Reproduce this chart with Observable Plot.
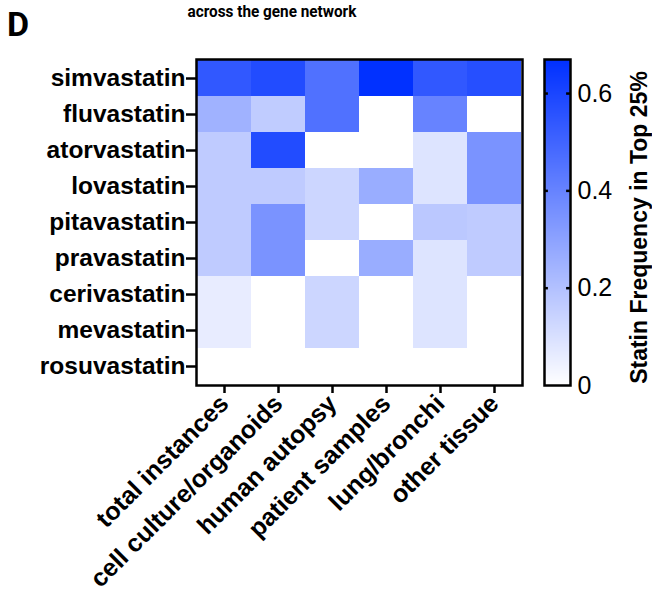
<!DOCTYPE html>
<html>
<head>
<meta charset="utf-8">
<script src="https://cdn.jsdelivr.net/npm/d3@7"></script>
<script src="https://cdn.jsdelivr.net/npm/@observablehq/plot@0.6"></script>
<style>
  html, body { margin: 0; padding: 0; background: #fff; }
  #wrap { position: relative; width: 652px; height: 596px; overflow: hidden; font-family: "Liberation Sans", Arial, sans-serif; }
  #main, #bar { position: absolute; top: 0; }
  #main { left: 0; }
  #bar { left: 530px; }
  #panel { position: absolute; left: 7px; top: 4px; font: bold 34px Roboto, "Liberation Sans", Arial, sans-serif; }
  #title { position: absolute; left: 0; width: 544px; top: 1px; text-align: center; font: bold 17px Roboto, "Liberation Sans", sans-serif; transform: scaleX(0.9); transform-origin: 272px 0; }
</style>
</head>
<body>
<div id="wrap">
  <div id="main"></div>
  <div id="bar"></div>
  <div id="panel">D</div>
  <div id="title">across the gene network</div>
</div>
<script>
const statins = ["simvastatin","fluvastatin","atorvastatin","lovastatin","pitavastatin","pravastatin","cerivastatin","mevastatin","rosuvastatin"];
const categories = ["total instances","cell culture/organoids","human autopsy","patient samples","lung/bronchi","other tissue"];
// values per statin, in category order
const simvastatin  = [0.54, 0.58, 0.46, 0.667, 0.54, 0.57];
const fluvastatin  = [0.25, 0.165, 0.46, 0, 0.40, 0];
const atorvastatin = [0.167, 0.58, 0, 0, 0.089, 0.35];
const lovastatin   = [0.167, 0.167, 0.133, 0.267, 0.089, 0.35];
const pitavastatin = [0.167, 0.35, 0.133, 0, 0.178, 0.167];
const pravastatin  = [0.167, 0.35, 0, 0.267, 0.089, 0.167];
const cerivastatin = [0.06, 0, 0.133, 0, 0.089, 0];
const mevastatin   = [0.06, 0, 0.133, 0, 0.089, 0];
const rosuvastatin = [0, 0, 0, 0, 0, 0];
const colorTicks = [0, 0.2, 0.4, 0.6];
const colorMax = 0.67;
const legendTitle = "Statin Frequency in Top 25%";

const rows = [simvastatin, fluvastatin, atorvastatin, lovastatin, pitavastatin, pravastatin, cerivastatin, mevastatin, rosuvastatin];
const table = rows.flatMap((vals, i) => vals.map((v, j) => ({statin: statins[i], category: categories[j], value: v})));

const colorScale = {type: "linear", domain: [0, colorMax], range: ["#ffffff", "#0030ff"], interpolate: "rgb"};
const font = {fontFamily: "Liberation Sans, Arial, sans-serif", color: "black", background: "transparent"};

const main = Plot.plot({
  width: 540, height: 596,
  marginLeft: 196, marginRight: 18, marginTop: 59, marginBottom: 211,
  style: font,
  x: {domain: categories, padding: 0, label: null},
  y: {domain: statins, padding: 0, label: null},
  color: colorScale,
  marks: [
    Plot.cell(table, {x: "category", y: "statin", fill: "value", inset: 0}),
    Plot.frame({stroke: "black", strokeWidth: 2.5}),
    Plot.axisY({tickSize: 10, tickPadding: 1, fontSize: 24.5, fontWeight: "bold", strokeWidth: 2.5, stroke: "black", fill: "black"}),
    Plot.axisX({tickSize: 8, tickPadding: 6, tickRotate: -45, fontSize: 25, fontWeight: "bold", strokeWidth: 2.5, stroke: "black", fill: "black"})
  ]
});
document.getElementById("main").append(main);

const bar = Plot.plot({
  width: 122, height: 596,
  marginLeft: 14, marginRight: 82, marginTop: 59, marginBottom: 211,
  style: font,
  x: {domain: [0, 1], axis: null},
  y: {domain: [0, colorMax], label: null},
  color: colorScale,
  marks: [
    Plot.raster({x1: 0, x2: 1, y1: 0, y2: colorMax, width: 1, height: 326, fill: (x, y) => y}),
    Plot.ruleY(colorTicks.slice(1), {x1: 0, x2: 0.15, stroke: "black", strokeWidth: 2.5}),
    Plot.ruleY(colorTicks.slice(1), {x1: 0.85, x2: 1, stroke: "black", strokeWidth: 2.5}),
    Plot.frame({stroke: "black", strokeWidth: 2.5}),
    Plot.axisY({anchor: "right", ticks: colorTicks, tickFormat: d => d === 0 ? "0" : d.toFixed(1), tickSize: 0, tickPadding: 7, fontSize: 25, fill: "black"}),
    Plot.text([legendTitle], {frameAnchor: "right", textAnchor: "middle", rotate: -90, dx: 69, dy: 5, fontSize: 23, fontWeight: "bold", fill: "black"})
  ]
});
document.getElementById("bar").append(bar);
</script>
</body>
</html>
